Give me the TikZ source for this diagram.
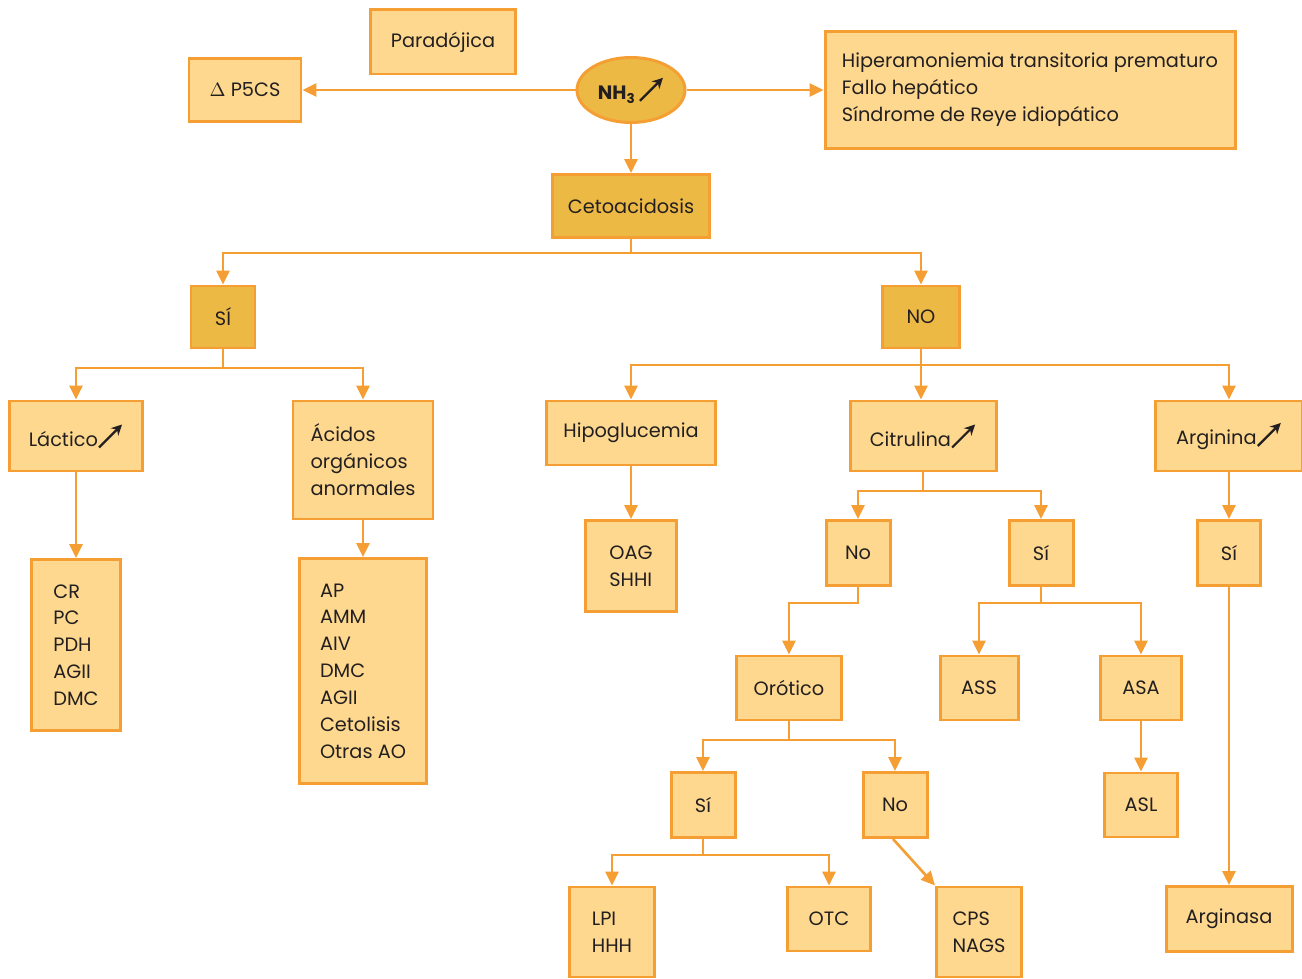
\documentclass[tikz,border=0pt]{standalone}
\usepackage{fontspec}
\setmainfont{Poppins}
\usetikzlibrary{arrows.meta,shapes.geometric}

\definecolor{caja}{RGB}{253,216,142}
\definecolor{oscuro}{RGB}{237,185,69}
\definecolor{borde}{RGB}{245,158,51}
\definecolor{tinta}{RGB}{35,31,32}

\newcommand{\subir}{\tikz[baseline=0pt,x=1cm,y=1cm]\draw[tinta,line width=1.3pt,-{Stealth[length=6pt,width=6pt]}] (0,-0.02) -- (0.46,0.44);}

\tikzset{
  box/.style={draw=borde,fill=caja,line width=1.7pt,inner sep=0pt,text=tinta,
    font=\fontsize{11}{15.3}\selectfont,align=left},
  darkbox/.style={box,fill=oscuro},
  wh/.style 2 args={minimum width=#1*0.02cm,minimum height=#2*0.02cm},
  link/.style={draw=borde,line width=1.5pt,-{Triangle[length=0.28cm,width=0.26cm]}},
  wire/.style={draw=borde,line width=1.5pt}
}

\begin{document}
\begin{tikzpicture}[x=0.02cm,y=-0.02cm]
  \useasboundingbox (0,0) rectangle (1302,979);

  % top row
  \node[box,wh={145}{64}] (para) at (443,42) {Parad\'ojica};
  \node[box,wh={112}{63}] (pfcs) at (245,90) {$\Delta$ P5CS};
  \node[ellipse,draw=borde,fill=oscuro,line width=1.7pt,inner sep=0pt,
    minimum width=108*0.02cm,minimum height=65*0.02cm,text=tinta,
    font=\fontsize{11}{13}\selectfont] (nh) at (631,90) {\textbf{NH\textsubscript{3}}\,\subir};
  \node[box,wh={410}{117}] (hiper) at (1030,90) {Hiperamoniemia transitoria prematuro\\Fallo hep\'atico\\S\'indrome de Reye idiop\'atico};
  \node[darkbox,wh={157}{63}] (ceto) at (631,206) {Cetoacidosis};

  \draw[link] (nh.west) -- (pfcs.east);
  \draw[link] (nh.east) -- (hiper.west);
  \draw[link] (nh.south) -- (ceto.north);

  % si / no
  \node[darkbox,wh={64}{62}] (si) at (223,317) {S\'I};
  \node[darkbox,wh={77}{62}] (no) at (921,317) {NO};
  \coordinate (cetoj) at (631,253);
  \draw[link] (ceto.south) -- (cetoj) -| (si.north);
  \draw[link] (cetoj) -| (no.north);

  % rama si
  \node[box,wh={133}{70}] (lact) at (76,436) {L\'actico\subir};
  \node[box,wh={140}{118}] (acid) at (363,460) {\'Acidos\\org\'anicos\\anormales};
  \node[box,wh={89}{171}] (lactlist) at (76,645) {CR\\PC\\PDH\\AGII\\DMC};
  \node[box,wh={127}{225}] (acidlist) at (363,671) {AP\\AMM\\AIV\\DMC\\AGII\\Cetolisis\\Otras AO};
  \coordinate (sij) at (223,368);
  \draw[link] (si.south) -- (sij) -| (lact.north);
  \draw[link] (sij) -| (acid.north);
  \draw[link] (lact.south) -- (lactlist.north);
  \draw[link] (acid.south) -- (acidlist.north);

  % rama no
  \node[box,wh={169}{64}] (hipo) at (631,433) {Hipoglucemia};
  \node[box,wh={146}{70}] (citr) at (923,436) {Citrulina\subir};
  \node[box,wh={147}{70}] (arg) at (1229,436) {Arginina\subir};
  \node[box,wh={91}{91}] (oag) at (631,566) {OAG\\SHHI};
  \coordinate (noj) at (921,365);
  \draw[wire] (no.south) -- (noj);
  \draw[link] (noj) -| (hipo.north);
  \draw[link] (noj) -- (noj |- citr.north);
  \draw[link] (noj) -| (arg.north);
  \draw[link] (hipo.south) -- (oag.north);

  % citrulina
  \node[box,wh={64}{65}] (citno) at (858,553) {No};
  \node[box,wh={64}{65}] (citsi) at (1041,553) {S\'i};
  \coordinate (citj) at (923,491);
  \draw[link] (citr.south) -- (citj) -| (citno.north);
  \draw[link] (citj) -| (citsi.north);

  \node[box,wh={105}{64}] (orot) at (789,688) {Or\'otico};
  \draw[link] (citno.south) |- (824,603) -| (orot.north);

  \node[box,wh={78}{64}] (ass) at (979,688) {ASS};
  \node[box,wh={81}{64}] (asa) at (1141,688) {ASA};
  \node[box,wh={73}{64}] (asl) at (1141,805) {ASL};
  \coordinate (citsij) at (1041,603);
  \draw[link] (citsi.south) -- (citsij) -| (ass.north);
  \draw[link] (citsij) -| (asa.north);
  \draw[link] (asa.south) -- (asl.north);

  % arginina
  \node[box,wh={63}{65}] (argsi) at (1229,553) {S\'i};
  \node[box,wh={126}{65}] (arginasa) at (1229,919) {Arginasa};
  \draw[link] (arg.south) -- (argsi.north);
  \draw[link] (argsi.south) -- (arginasa.north);

  % orotico
  \node[box,wh={64}{65}] (orsi) at (703,805) {S\'i};
  \node[box,wh={64}{65}] (orno) at (895,805) {No};
  \coordinate (orj) at (789,740);
  \draw[link] (orot.south) -- (orj) -| (orsi.north);
  \draw[link] (orj) -| (orno.north);

  \node[box,wh={85}{90}] (lpi) at (612,932) {LPI\\HHH};
  \node[box,wh={83}{64}] (otc) at (829,919) {OTC};
  \node[box,wh={85}{90}] (cps) at (979,932) {CPS\\NAGS};
  \coordinate (orsij) at (703,855);
  \draw[link] (orsi.south) -- (orsij) -| (lpi.north);
  \draw[link] (orsij) -| (otc.north);
  \draw[link] (orno.south -| 893,838) -- (cps.north west);
\end{tikzpicture}
\end{document}
